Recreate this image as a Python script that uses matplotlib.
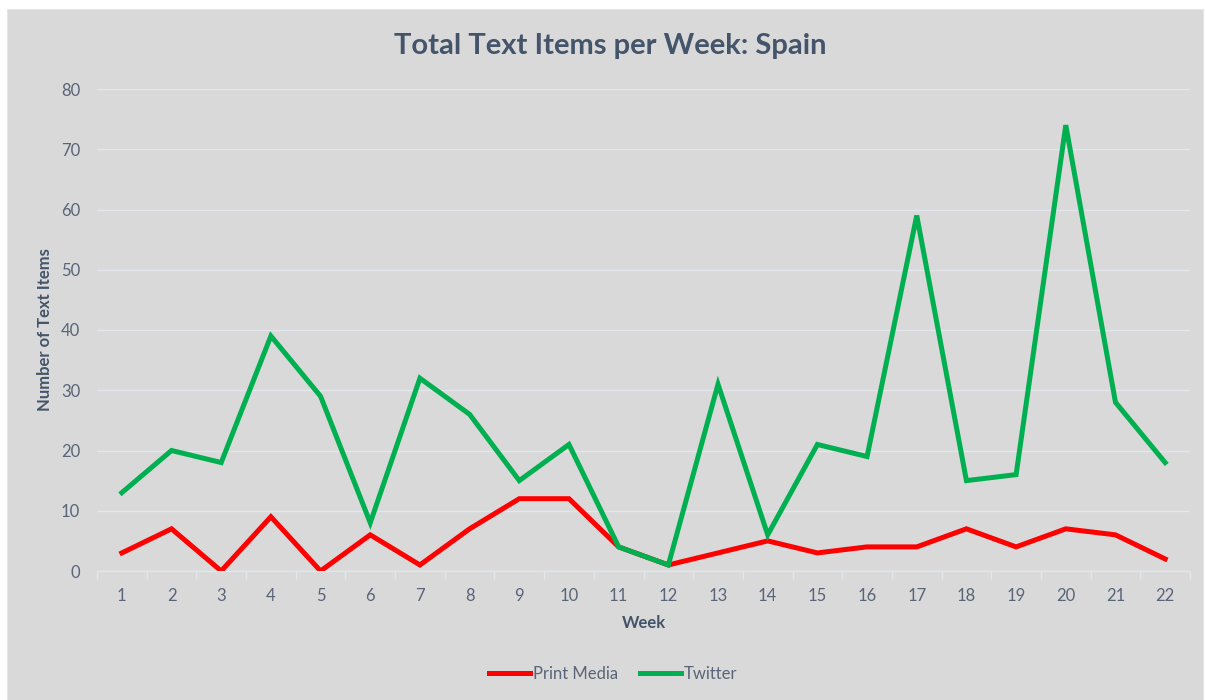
import matplotlib
matplotlib.use("Agg")
import matplotlib.pyplot as plt
from matplotlib.patches import Rectangle

weeks = list(range(1, 23))
print_media = [3, 7, 0, 9, 0, 6, 1, 7, 12, 12, 4, 1, 3, 5, 3, 4, 4, 7, 4, 7, 6, 2]
twitter = [13, 20, 18, 39, 29, 8, 32, 26, 15, 21, 4, 1, 31, 6, 21, 19, 59, 15, 16, 74, 28, 18]
yticks = [0, 10, 20, 30, 40, 50, 60, 70, 80]

plt.rcParams['font.family'] = ['Lato', 'DejaVu Sans']
W, H = 1205, 700
fig = plt.figure(figsize=(W / 100, H / 100), dpi=100)
fig.patch.set_facecolor('white')
bg = '#d9d9d9'
rect = Rectangle((7 / W, 0), (1203 - 7) / W, 1 - 9 / H, transform=fig.transFigure,
                 facecolor=bg, edgecolor='#e6e6e6', lw=0.8, zorder=-10)
fig.patches.append(rect)

ax = fig.add_axes([97 / W, 1 - 571 / H, (1190 - 97) / W, (571 - 89) / H])
ax.set_zorder(1)
ax.patch.set_alpha(0)

txt = '#5a6478'
dark = '#44546a'
grid_c = '#e3e6ec'

ax.plot(weeks, print_media, color='#ff0000', lw=3.6, label='Print Media', solid_joinstyle='miter', zorder=3)
ax.plot(weeks, twitter, color='#00b050', lw=3.6, label='Twitter', solid_joinstyle='miter', zorder=3)

ax.set_xlim(0.5, 22.5)
ax.set_ylim(0, 80)
ax.set_yticks(yticks)
ax.set_xticks(weeks)
ax.set_xticklabels([str(w) for w in weeks])
ax.set_xticks([w + 0.5 for w in range(0, 23)], minor=True)
ax.tick_params(axis='x', which='major', length=0, pad=12, labelsize=12, labelcolor=txt)
ax.tick_params(axis='x', which='minor', length=6, width=1, color=grid_c, direction='out')
ax.tick_params(axis='y', length=0, pad=12, labelsize=12, labelcolor=txt)

ax.grid(axis='y', color=grid_c, lw=1, zorder=0)
ax.set_axisbelow(True)
for s in ['top', 'right', 'left']:
    ax.spines[s].set_visible(False)
ax.spines['bottom'].set_color(grid_c)
ax.spines['bottom'].set_linewidth(1)

ax.set_xlabel('Week', fontsize=12, fontweight='bold', color=dark, labelpad=8)
ax.set_ylabel('Number of Text Items', fontsize=12, fontweight='bold', color=dark, labelpad=6)

fig.text(610 / W, 1 - 46 / H, 'Total Text Items per Week: Spain', ha='center', va='center',
         fontsize=21, fontweight='bold', color=dark)

leg = fig.legend(loc='center', bbox_to_anchor=(613 / W, 1 - 674 / H), ncol=2, frameon=False,
                 fontsize=12, labelcolor=txt, handlelength=2.5, handletextpad=0.15, columnspacing=1.3)

fig.savefig('out.png', dpi=100, facecolor='white')
